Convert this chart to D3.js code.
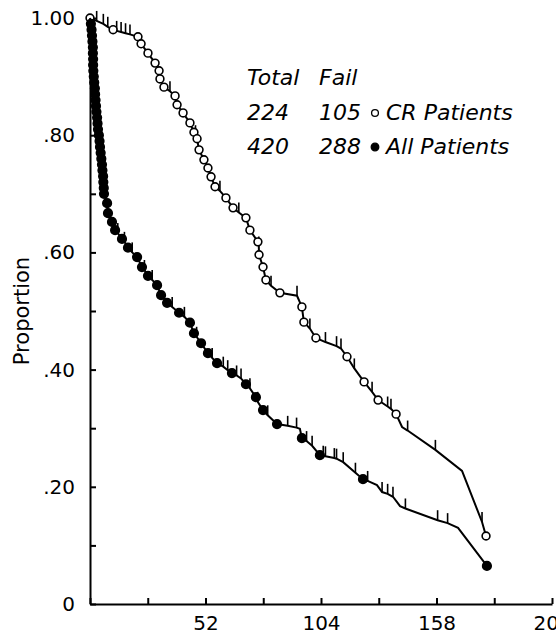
<!DOCTYPE html>
<html>
<head>
<meta charset="utf-8">
<script src="https://cdn.jsdelivr.net/npm/d3@7"></script>
<style>
  body { margin: 0; background: #fff; }
  svg { display: block; }
  .axis path, .axis line { stroke: #000; stroke-width: 2; }
  .axis text { font-family: "DejaVu Sans", sans-serif; fill: #000; }
  .curve { fill: none; stroke: #000; stroke-width: 2; }
  .legend { font-family: "DejaVu Sans", sans-serif; font-style: italic; font-size: 22px; }
</style>
</head>
<body>
<div id="chart"></div>
<script>
// weeks, proportion, mark ('o' = failure shown as a circle, '|' = censored, '' = plain vertex)
var crPatients = [
    [0, 1.000, 'o'], [3, 0.995, '|'], [6, 0.990, '|'], [8, 0.985, '|'],
    [10.4, 0.980, 'o'], [12, 0.978, '|'], [14, 0.976, '|'], [16, 0.974, '|'], [18, 0.972, '|'],
    [21.6, 0.968, 'o'], [23.0, 0.956, 'o'], [26.1, 0.940, 'o'], [29.3, 0.923, 'o'],
    [31.1, 0.910, 'o'], [31.5, 0.896, 'o'], [33.3, 0.882, 'o'], [36, 0.875, '|'],
    [38.3, 0.867, 'o'], [39.2, 0.852, 'o'], [41.9, 0.838, 'o'], [45.0, 0.821, 'o'],
    [46.8, 0.805, 'o'], [47.5, 0.800, '|'], [48.2, 0.794, 'o'], [49.1, 0.775, 'o'],
    [51.3, 0.758, 'o'], [53.1, 0.744, 'o'], [54.5, 0.729, 'o'], [56.3, 0.712, 'o'],
    [58.5, 0.705, '|'], [61.2, 0.693, 'o'], [64.4, 0.676, 'o'], [67, 0.668, '|'],
    [70.2, 0.659, 'o'], [72.0, 0.638, 'o'], [75.6, 0.618, 'o'], [76.0, 0.610, '|'],
    [76.1, 0.596, 'o'], [77.9, 0.575, 'o'], [79.2, 0.553, 'o'], [81.5, 0.543, '|'],
    [85.5, 0.531, 'o'], [93.2, 0.526, '|'], [95.4, 0.507, 'o'], [96.3, 0.481, 'o'],
    [99, 0.470, '|'], [101.7, 0.454, 'o'], [106, 0.447, '|'], [111, 0.440, '|'],
    [113, 0.436, '|'], [115.7, 0.422, 'o'], [119, 0.402, '|'], [123.4, 0.379, 'o'],
    [127, 0.362, '|'], [129.7, 0.348, 'o'], [134, 0.337, '|'], [135.5, 0.333, '|'],
    [137.8, 0.324, 'o'], [140.5, 0.302, ''], [143, 0.296, '|'], [155.5, 0.263, '|'],
    [167.5, 0.227, ''], [176.5, 0.140, '|'], [178.3, 0.116, 'o']
];

var allPatients = [
    [0, 1.000, ''],
    [0.4, 0.99, 'o'], [0.7, 0.98, 'o'], [0.9, 0.97, 'o'], [1.1, 0.96, 'o'], [1.3, 0.95, 'o'],
    [1.3, 0.94, 'o'], [1.4, 0.93, 'o'], [1.4, 0.92, 'o'], [1.5, 0.91, 'o'], [1.7, 0.90, 'o'],
    [1.9, 0.89, 'o'], [2.2, 0.88, 'o'], [2.3, 0.87, 'o'], [2.5, 0.86, 'o'], [2.7, 0.85, 'o'],
    [2.9, 0.84, 'o'], [3.2, 0.83, 'o'], [3.4, 0.82, 'o'], [3.6, 0.81, 'o'], [4.0, 0.80, 'o'],
    [4.3, 0.79, 'o'], [4.5, 0.78, 'o'], [4.8, 0.77, 'o'], [5.1, 0.76, 'o'], [5.4, 0.75, 'o'],
    [5.6, 0.74, 'o'], [5.9, 0.73, 'o'], [6.0, 0.72, 'o'], [6.2, 0.71, 'o'], [6.3, 0.70, 'o'],
    [7.7, 0.684, 'o'], [8.1, 0.667, 'o'], [9.9, 0.652, 'o'], [11.3, 0.638, 'o'], [12.5, 0.633, '|'],
    [14.4, 0.623, 'o'], [15.5, 0.618, '|'], [17.1, 0.608, 'o'], [19, 0.600, '|'], [21.2, 0.592, 'o'],
    [23.4, 0.575, 'o'], [24.5, 0.570, '|'], [26.1, 0.560, 'o'], [28, 0.553, '|'], [30.2, 0.544, 'o'],
    [32.0, 0.527, 'o'], [34.7, 0.514, 'o'], [37, 0.507, '|'], [40.1, 0.497, 'o'], [42.5, 0.490, '|'],
    [45.0, 0.480, 'o'], [46.8, 0.462, 'o'], [48, 0.456, '|'], [50.0, 0.445, 'o'], [53.1, 0.428, 'o'],
    [55, 0.420, '|'], [57.2, 0.411, 'o'], [60, 0.405, '|'], [62, 0.399, '|'], [63.9, 0.394, 'o'],
    [66, 0.390, '|'], [68, 0.385, '|'], [70.2, 0.375, 'o'], [72, 0.368, '|'], [74.7, 0.353, 'o'],
    [75.5, 0.345, '|'], [77.9, 0.331, 'o'], [80, 0.322, '|'], [84.2, 0.307, 'o'], [89, 0.304, '|'],
    [93, 0.301, '|'], [94.5, 0.299, ''], [95.4, 0.283, 'o'], [97.5, 0.278, '|'], [100, 0.270, '|'],
    [103.5, 0.254, 'o'], [105, 0.253, '|'], [106, 0.252, '|'], [110, 0.249, '|'], [111, 0.248, '|'],
    [114, 0.242, '|'], [119.5, 0.224, '|'], [122.9, 0.213, 'o'], [125, 0.210, '|'], [129.2, 0.203, ''],
    [131.5, 0.191, '|'], [134, 0.188, '|'], [136.4, 0.183, '|'], [139.6, 0.167, ''], [142, 0.163, '|'],
    [156.5, 0.143, '|'], [161, 0.138, '|'], [165.7, 0.130, ''], [178.7, 0.065, 'o']
];

var yTicks = [0, 0.1, 0.2, 0.3, 0.4, 0.5, 0.6, 0.7, 0.8, 0.9, 1.0];
var yTickLabels = { 0: "0", 0.2: ".20", 0.4: ".40", 0.6: ".60", 0.8: ".80", 1: "1.00" };
var xTicks = [0, 26, 52, 78, 104, 130, 156, 182, 208];
var xTickLabels = { 52: "52", 104: "104", 156: "158", 208: "208" };

var legendHeader = ["Total", "Fail"];
var legendRows = [
    { total: "224", fail: "105", name: "CR Patients", filled: false },
    { total: "420", fail: "288", name: "All Patients", filled: true }
];

var width = 556, height = 639;

var x = d3.scaleLinear()
    .domain([0, 208])
    .range([90, 552]);
var y = d3.scaleLinear()
    .domain([0, 1])
    .range([604, 18]);

var svg = d3.select("#chart").append("svg")
    .attr("width", width)
    .attr("height", height);

// axes, ticks pointing inward
svg.append("g")
    .attr("class", "axis")
    .attr("transform", "translate(" + x(0) + ",0)")
    .call(d3.axisLeft(y)
        .tickValues(yTicks)
        .tickSizeInner(-6)
        .tickSizeOuter(0)
        .tickPadding(15)
        .tickFormat(d => yTickLabels[Math.round(d * 10) / 10] || ""))
    .call(g => g.selectAll("text").style("font-size", "20px"));

svg.append("g")
    .attr("class", "axis")
    .attr("transform", "translate(0," + y(0) + ")")
    .call(d3.axisBottom(x)
        .tickValues(xTicks)
        .tickSizeInner(-6)
        .tickSizeOuter(0)
        .tickPadding(12)
        .tickFormat(d => xTickLabels[d] || ""))
    .call(g => g.selectAll("text").style("font-size", "20px"));

svg.append("text")
    .attr("transform", "translate(29," + y(0.5) + ") rotate(-90)")
    .attr("text-anchor", "middle")
    .style("font-family", "DejaVu Sans, sans-serif")
    .style("font-size", "21px")
    .text("Proportion");

var line = d3.line()
    .x(d => x(d[0]))
    .y(d => y(d[1]));

function drawCurve(data, filled) {
    var g = svg.append("g");

    g.append("path")
        .datum(data)
        .attr("class", "curve")
        .attr("d", line);

    // censored observations
    g.selectAll(".censor")
        .data(data.filter(d => d[2] === '|'))
        .enter()
        .append("line")
        .attr("class", "censor")
        .attr("x1", d => x(d[0]))
        .attr("x2", d => x(d[0]))
        .attr("y1", d => y(d[1]))
        .attr("y2", d => y(d[1]) - 10)
        .style("stroke", "#000")
        .style("stroke-width", 1.6);

    g.selectAll(".event")
        .data(data.filter(d => d[2] === 'o'))
        .enter()
        .append("circle")
        .attr("class", "event")
        .attr("cx", d => x(d[0]))
        .attr("cy", d => y(d[1]))
        .attr("r", filled ? 4.3 : 3.9)
        .style("fill", filled ? "#000" : "#fff")
        .style("stroke", "#000")
        .style("stroke-width", 1.6);
}

drawCurve(crPatients, false);
drawCurve(allPatients, true);

// legend
var legend = svg.append("g").attr("class", "legend");

legend.append("text").attr("x", 247).attr("y", 85).text(legendHeader[0]);
legend.append("text").attr("x", 319).attr("y", 85).text(legendHeader[1]);

var rows = legend.selectAll(".row")
    .data(legendRows)
    .enter()
    .append("g")
    .attr("class", "row")
    .attr("transform", (d, i) => "translate(0," + (120 + i * 34) + ")");

rows.append("text").attr("x", 247).text(d => d.total);
rows.append("text").attr("x", 319).text(d => d.fail);
rows.append("circle")
    .attr("cx", 375)
    .attr("cy", -7)
    .attr("r", d => d.filled ? 3.8 : 3.4)
    .style("fill", d => d.filled ? "#000" : "#fff")
    .style("stroke", "#000")
    .style("stroke-width", 1.3);
rows.append("text").attr("x", 386).text(d => d.name);
</script>
</body>
</html>
